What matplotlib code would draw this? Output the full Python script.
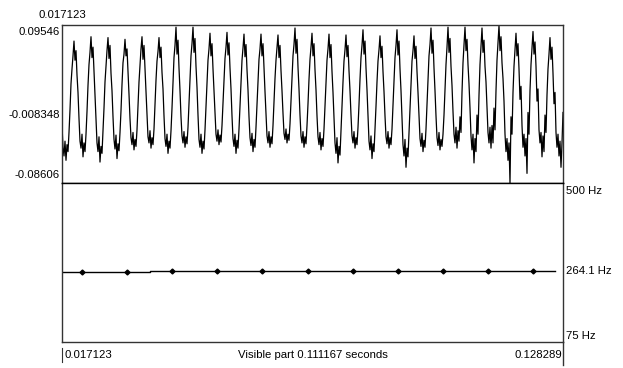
import numpy as np
import matplotlib
matplotlib.use("Agg")
import matplotlib.pyplot as plt

### données
t_debut = 0.017123
t_fin = 0.128289
duree = 0.111167

amp_max = 0.09546
amp_mil = -0.008348
amp_min = -0.08606

### forme d'onde (en 1e-3), une ligne par période
onde_milli = [
    -20, -45, -55, -38, -60, -42, -50,
    -28, -2, 28, 45, 60, 77, 55, 66, 38, 18, -12, -38, -46, -30, -56, -40, -50,
    -30, -4, 26, 50, 64, 82, 58, 70, 42, 15, -14, -40, -50, -33, -62, -44, -52,
    -26, 0, 30, 48, 66, 81, 57, 72, 40, 20, -10, -36, -47, -31, -58, -41, -49,
    -28, -3, 27, 52, 62, 79, 60, 68, 43, 16, -12, -34, -42, -28, -48, -36, -44,
    -25, 2, 30, 50, 68, 82, 56, 72, 44, 19, -8, -33, -40, -26, -46, -34, -42,
    -24, 4, 32, 54, 65, 81, 58, 70, 41, 22, -9, -35, -44, -30, -52, -38, -46,
    -26, 0, 30, 58, 72, 93, 62, 78, 46, 20, -10, -32, -40, -27, -45, -33, -41,
    -22, 5, 34, 60, 74, 93, 64, 80, 48, 24, -8, -36, -45, -30, -52, -38, -47,
    -25, 2, 30, 55, 68, 86, 60, 74, 45, 20, -7, -30, -38, -25, -42, -31, -39,
    -20, 6, 34, 57, 70, 87, 61, 75, 46, 22, -9, -35, -44, -30, -52, -37, -46,
    -24, 3, 31, 55, 69, 85, 59, 73, 44, 21, -10, -34, -43, -29, -50, -36, -45,
    -22, 4, 32, 56, 68, 85, 60, 74, 45, 19, -8, -32, -40, -27, -45, -33, -41,
    -20, 6, 34, 55, 70, 84, 58, 72, 43, 20, -6, -29, -36, -24, -40, -30, -37,
    -18, 8, 36, 60, 73, 92, 63, 79, 47, 22, -8, -32, -40, -27, -45, -33, -41,
    -20, 5, 33, 56, 70, 86, 60, 74, 44, 21, -9, -33, -42, -28, -48, -35, -44,
    -24, 2, 30, 55, 68, 85, 58, 73, 42, 18, -12, -40, -52, -34, -63, -44, -54,
    -26, 0, 30, 54, 67, 84, 59, 72, 43, 20, -8, -32, -40, -27, -46, -34, -42,
    -22, 4, 33, 58, 72, 90, 62, 77, 46, 21, -10, -38, -48, -32, -58, -41, -50,
    -25, 2, 30, 54, 67, 83, 58, 71, 42, 19, -9, -33, -41, -27, -46, -34, -42,
    -24, 3, 32, 58, 72, 90, 61, 77, 45, 20, -12, -42, -55, -36, -68, -46, -56,
    -28, 0, 29, 54, 66, 83, 57, 71, 42, 18, -10, -35, -44, -29, -50, -37, -45,
    -24, 4, 33, 60, 73, 92, 63, 78, 46, 20, -9, -34, -43, -28, -48, -36, -44,
    -30, -8, 20, 50, 70, 93, 64, 80, 48, 26, -4, -30, -40, -22, -46, -26, -38,
    -10, -28, 18, 52, 72, 93, 66, 79, 50, 28, 0, -32, -48, -30, -63, -35, -50,
    -8, -30, 15, 50, 70, 92, 64, 78, 48, 30, 2, -28, -40, -22, -46, -20, -40,
    0, -25, 20, 55, 74, 95, 66, 82, 52, 34, 8, -30, -50, -35, -60, -40, -86,
    -10, -30, 18, 48, 66, 86, 60, 74, 45, 10, 25, -20, -45, -30, -55, -35, -75,
    -5, -30, 20, 50, 68, 88, 62, 76, 48, 8, 22, -25, -40, -28, -56, -32, -50,
    -8, -28, 15, 45, 62, 81, 56, 70, 40, 5, 18, -28, -45, -30, -55, -38, -68,
    -40, -5,
]

### courbe de pitch
pitch_t = [0.0216, 0.0316, 0.0416, 0.0516, 0.0616, 0.0716, 0.0816, 0.0916, 0.1016, 0.1116, 0.1216]
pitch_hz = [262.6, 262.8, 265.3, 265.4, 265.0, 265.2, 264.9, 264.3, 264.4, 264.6, 264.3]
pitch_min = 75
pitch_max = 500
pitch_moy = 264.1

plt.rcParams['font.family'] = ['Liberation Sans', 'DejaVu Sans']
taille = 8.2
gris = '#333333'

fig = plt.figure(figsize=(6.23, 3.68), dpi=100)
fig.patch.set_facecolor('white')

ax_onde = fig.add_axes([62/623, 185/368, 501/623, 158/368])
ax_pitch = fig.add_axes([62/623, 26/368, 501/623, 159/368])

### forme d'onde
onde = np.array(onde_milli) / 1000.0
temps = np.linspace(t_debut, t_fin, len(onde))
ax_onde.plot(temps, onde, color='black', linewidth=0.9)
ax_onde.set_xlim(t_debut, t_fin)
ax_onde.set_ylim(amp_min, amp_max)

### pitch en escalier + points
x_esc = [t_debut] + pitch_t + [pitch_t[-1] + 0.005]
y_esc = [pitch_hz[0]] + pitch_hz + [pitch_hz[-1]]
ax_pitch.step(x_esc, y_esc, where='mid', color='black', linewidth=1.0)
ax_pitch.plot(pitch_t, pitch_hz, 'D', color='black', markersize=2.5)
ax_pitch.set_xlim(t_debut, t_fin)
ax_pitch.set_ylim(pitch_min, pitch_max)

for ax in (ax_onde, ax_pitch):
    ax.set_xticks([])
    ax.set_yticks([])
    for s in ax.spines.values():
        s.set_color(gris)
        s.set_linewidth(1.0)
ax_onde.spines['bottom'].set_color('black')
ax_pitch.spines['top'].set_color('black')

### étiquettes de gauche (forme d'onde)
tr = ax_onde.get_yaxis_transform()
ax_onde.text(-0.004, amp_max - 0.002, f"{amp_max:.5f}", transform=tr, ha='right', va='top', fontsize=taille)
ax_onde.text(-0.004, amp_mil, f"{amp_mil:.6f}", transform=tr, ha='right', va='center', fontsize=taille)
ax_onde.text(-0.004, amp_min + 0.004, f"{amp_min:.5f}", transform=tr, ha='right', va='bottom', fontsize=taille)
ax_onde.text(0.0, 1.03, f"{t_debut:.6f}", transform=ax_onde.transAxes, ha='center', va='bottom', fontsize=taille)

### étiquettes de droite (pitch)
trp = ax_pitch.get_yaxis_transform()
ax_pitch.text(1.006, pitch_max - 8, f"{pitch_max} Hz", transform=trp, ha='left', va='top', fontsize=taille)
ax_pitch.text(1.006, pitch_moy, f"{pitch_moy} Hz", transform=trp, ha='left', va='center', fontsize=taille)
ax_pitch.text(1.006, pitch_min + 3, f"{pitch_min} Hz", transform=trp, ha='left', va='bottom', fontsize=taille)

### axe du temps en bas
ax_pitch.plot([1, 1], [0, -0.145], transform=ax_pitch.transAxes, color=gris, linewidth=1.0, clip_on=False)
ax_pitch.plot([0, 0], [-0.04, -0.125], transform=ax_pitch.transAxes, color=gris, linewidth=0.8, clip_on=False)
ax_pitch.text(0.004, -0.082, f"{t_debut:.6f}", transform=ax_pitch.transAxes, ha='left', va='center', fontsize=taille)
ax_pitch.text(0.5, -0.082, f"Visible part {duree:.6f} seconds", transform=ax_pitch.transAxes, ha='center', va='center', fontsize=taille)
ax_pitch.text(0.998, -0.082, f"{t_fin:.6f}", transform=ax_pitch.transAxes, ha='right', va='center', fontsize=taille)

fig.savefig("out.png", dpi=100, facecolor='white')
